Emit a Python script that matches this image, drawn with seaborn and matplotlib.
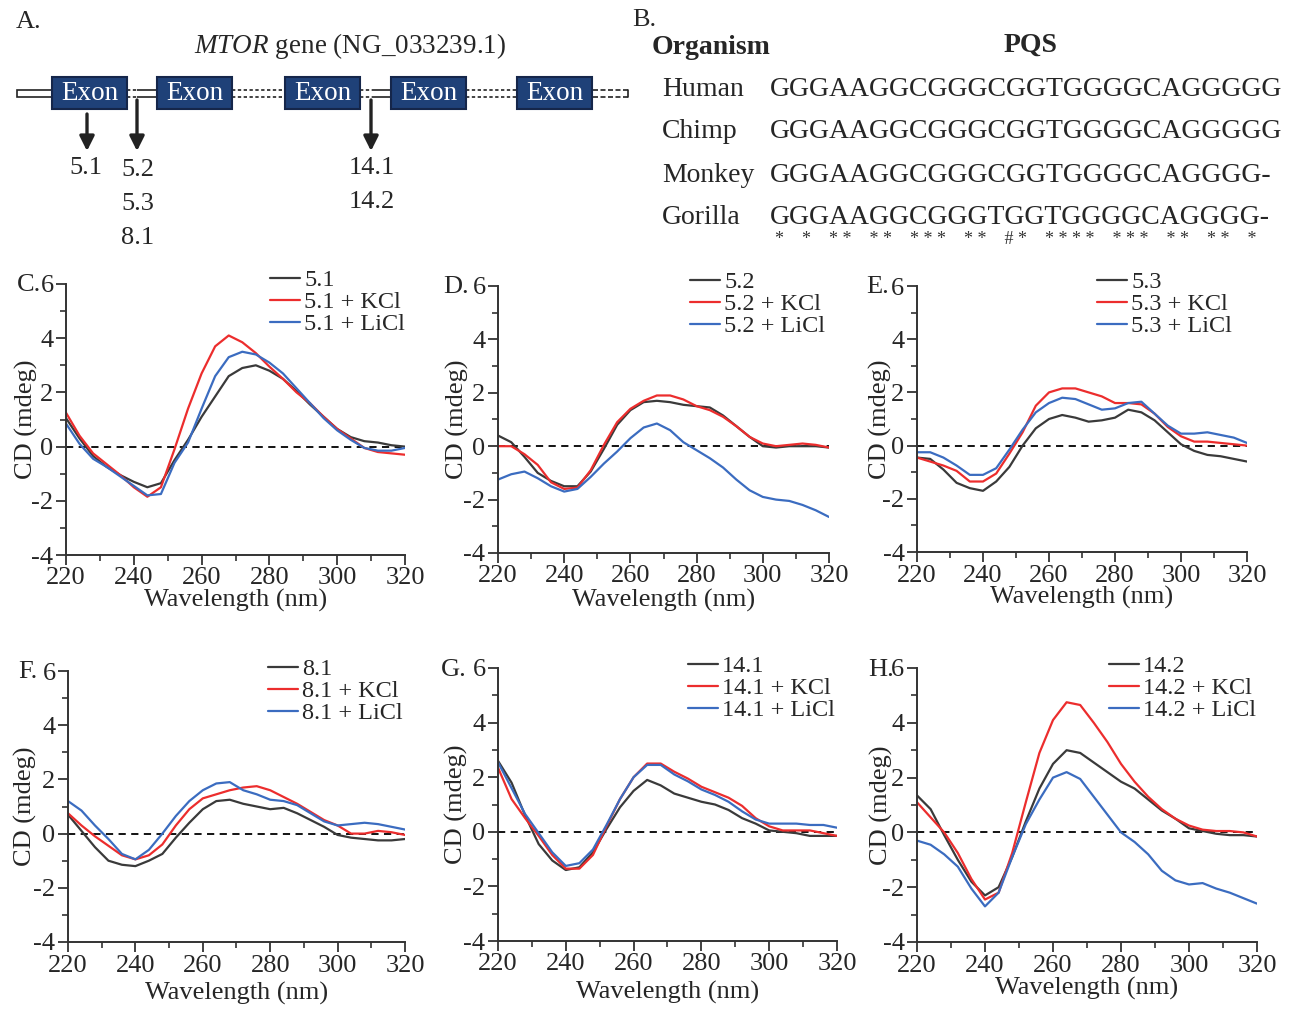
import numpy as np
import pandas as pd
import matplotlib
matplotlib.use("Agg")
import matplotlib.pyplot as plt
import seaborn as sns
from matplotlib.patches import Rectangle
from matplotlib.ticker import MultipleLocator

# ---------------- data ----------------
wavelength = list(range(220, 321, 4))

s51      = [1.05, 0.3, -0.35, -0.75, -1.05, -1.3, -1.5, -1.35, -0.5, 0.25, 1.1, 1.85, 2.6, 2.9, 3.0, 2.8, 2.5, 2.05, 1.55, 1.1, 0.65, 0.35, 0.2, 0.15, 0.05, 0.0]
s51_kcl  = [1.25, 0.4, -0.25, -0.65, -1.05, -1.5, -1.85, -1.5, -0.1, 1.4, 2.7, 3.7, 4.1, 3.85, 3.45, 2.95, 2.5, 2.0, 1.6, 1.1, 0.65, 0.3, -0.05, -0.2, -0.25, -0.3]
s51_licl = [0.85, 0.1, -0.45, -0.75, -1.1, -1.45, -1.8, -1.75, -0.6, 0.15, 1.4, 2.6, 3.3, 3.5, 3.4, 3.1, 2.7, 2.15, 1.6, 1.05, 0.6, 0.25, -0.05, -0.15, -0.15, -0.05]

s52      = [0.4, 0.15, -0.4, -1.0, -1.3, -1.5, -1.5, -0.95, -0.1, 0.8, 1.35, 1.65, 1.7, 1.65, 1.55, 1.5, 1.45, 1.15, 0.75, 0.35, 0.0, -0.05, 0.0, 0.0, 0.0, -0.05]
s52_kcl  = [0.0, 0.0, -0.3, -0.7, -1.35, -1.6, -1.55, -0.9, 0.05, 0.9, 1.4, 1.7, 1.9, 1.9, 1.75, 1.5, 1.35, 1.1, 0.75, 0.35, 0.1, 0.0, 0.05, 0.1, 0.05, -0.05]
s52_licl = [-1.25, -1.05, -0.95, -1.2, -1.5, -1.7, -1.6, -1.15, -0.65, -0.2, 0.3, 0.7, 0.85, 0.6, 0.15, -0.15, -0.45, -0.8, -1.25, -1.65, -1.9, -2.0, -2.05, -2.2, -2.4, -2.65]

s53      = [-0.45, -0.5, -0.9, -1.4, -1.6, -1.7, -1.35, -0.8, 0.0, 0.65, 1.0, 1.15, 1.05, 0.9, 0.95, 1.05, 1.35, 1.25, 0.95, 0.5, 0.05, -0.2, -0.35, -0.4, -0.5, -0.6]
s53_kcl  = [-0.45, -0.6, -0.75, -0.95, -1.35, -1.35, -1.05, -0.3, 0.5, 1.5, 2.0, 2.15, 2.15, 2.0, 1.85, 1.6, 1.6, 1.55, 1.2, 0.7, 0.35, 0.15, 0.15, 0.1, 0.05, 0.0]
s53_licl = [-0.25, -0.25, -0.45, -0.75, -1.1, -1.1, -0.85, -0.15, 0.6, 1.25, 1.6, 1.8, 1.75, 1.55, 1.35, 1.4, 1.6, 1.65, 1.2, 0.75, 0.45, 0.45, 0.5, 0.4, 0.3, 0.1]

s81      = [0.7, 0.1, -0.5, -1.0, -1.15, -1.2, -1.0, -0.75, -0.15, 0.4, 0.9, 1.2, 1.25, 1.1, 1.0, 0.9, 0.95, 0.75, 0.5, 0.25, -0.05, -0.15, -0.2, -0.25, -0.25, -0.2]
s81_kcl  = [0.75, 0.3, -0.1, -0.45, -0.8, -0.95, -0.8, -0.4, 0.3, 0.9, 1.3, 1.45, 1.6, 1.7, 1.75, 1.6, 1.35, 1.1, 0.8, 0.5, 0.3, 0.0, 0.0, 0.1, 0.05, -0.05]
s81_licl = [1.2, 0.85, 0.3, -0.2, -0.75, -0.95, -0.6, 0.0, 0.65, 1.2, 1.6, 1.85, 1.9, 1.6, 1.45, 1.25, 1.2, 1.05, 0.75, 0.45, 0.3, 0.35, 0.4, 0.35, 0.25, 0.15]

s141      = [2.6, 1.8, 0.6, -0.45, -1.05, -1.4, -1.3, -0.75, 0.1, 0.9, 1.5, 1.9, 1.7, 1.4, 1.25, 1.1, 1.0, 0.8, 0.5, 0.3, 0.05, 0.0, -0.05, -0.15, -0.15, -0.15]
s141_kcl  = [2.35, 1.2, 0.5, -0.15, -0.85, -1.35, -1.35, -0.85, 0.2, 1.2, 2.0, 2.5, 2.5, 2.2, 1.95, 1.65, 1.45, 1.25, 0.95, 0.5, 0.2, 0.05, 0.05, 0.05, -0.05, -0.15]
s141_licl = [2.55, 1.6, 0.65, -0.05, -0.75, -1.25, -1.15, -0.65, 0.25, 1.2, 2.0, 2.45, 2.45, 2.1, 1.85, 1.55, 1.35, 1.1, 0.75, 0.45, 0.3, 0.3, 0.3, 0.25, 0.25, 0.15]

s142      = [1.35, 0.85, -0.1, -1.0, -1.8, -2.3, -2.0, -0.9, 0.4, 1.6, 2.5, 3.0, 2.9, 2.55, 2.2, 1.85, 1.6, 1.2, 0.8, 0.5, 0.15, 0.05, -0.05, -0.1, -0.1, -0.15]
s142_kcl  = [1.1, 0.55, 0.0, -0.75, -1.7, -2.45, -2.2, -0.75, 1.1, 2.9, 4.1, 4.75, 4.65, 4.0, 3.3, 2.5, 1.85, 1.3, 0.85, 0.5, 0.25, 0.1, 0.05, 0.05, 0.0, -0.15]
s142_licl = [-0.3, -0.45, -0.8, -1.25, -2.05, -2.7, -2.2, -0.9, 0.3, 1.2, 2.0, 2.2, 1.95, 1.3, 0.65, 0.0, -0.35, -0.8, -1.4, -1.75, -1.9, -1.85, -2.05, -2.2, -2.4, -2.6]

organisms = ["Human", "Chimp", "Monkey", "Gorilla"]
sequences = ["GGGAAGGCGGGCGGTGGGGCAGGGGG",
             "GGGAAGGCGGGCGGTGGGGCAGGGGG",
             "GGGAAGGCGGGCGGTGGGGCAGGGG-",
             "GGGAAGGCGGGTGGTGGGGCAGGGG-"]
conservation = "*    *    * *    * *    * * *    * *    # *    * * * *    * * *    * *    * *    *"

# ---------------- style ----------------
sns.set_theme(style="ticks")
plt.rcParams["font.family"] = ["Liberation Serif", "DejaVu Serif"]
plt.rcParams["axes.unicode_minus"] = False
plt.rcParams["mathtext.fontset"] = "custom"
plt.rcParams["mathtext.it"] = "Liberation Serif:italic"
plt.rcParams["mathtext.rm"] = "Liberation Serif"

BLACK = "#3a3a3a"
RED = "#ec2d2d"
BLUE = "#3b6cc0"
NAVY = "#1f4178"

W, H = 1291, 1009
fig = plt.figure(figsize=(W / 100, H / 100), dpi=100)

over = fig.add_axes([0, 0, 1, 1])
over.set_xlim(0, W)
over.set_ylim(H, 0)
over.axis("off")

FS = 19

# ---------------- panel A ----------------
over.text(16, 22, "A.", fontsize=FS, ha="left", va="center")
over.text(350, 46, r"$\mathit{MTOR}$ gene (NG_033239.1)", fontsize=FS + 0.5, ha="center", va="center")

yl, yh = 89.5, 96.5
def dbl(x0, x1, style):
    for yy in (yl, yh):
        over.plot([x0, x1], [yy, yy], color="#222222", lw=1.2, ls=style, solid_capstyle="butt")

over.add_patch(Rectangle((17, yl), 35, yh - yl, fc="white", ec="#222222", lw=1.2))
dbl(127, 137, (0, (2, 1.5)))
dbl(137, 157, "-")
dbl(232, 285, (0, (2, 1.5)))
dbl(360, 372, (0, (2, 1.5)))
dbl(372, 391, "-")
dbl(466, 517, (0, (2, 1.5)))
dbl(593, 628, (0, (3, 1.5)))
over.plot([628, 628], [yl, yh], color="#222222", lw=1.2)

for x0 in [52, 157, 285, 391, 517]:
    over.add_patch(Rectangle((x0, 77), 75, 32, fc=NAVY, ec="#15264a", lw=1.5, zorder=3))
    over.text(x0 + 37.5, 93, "Exon", color="white", fontsize=FS + 0.5, ha="center", va="center", zorder=4)

arrow = dict(arrowstyle="-|>", lw=2.4, color="#222222", mutation_scale=22, shrinkA=0, shrinkB=0)
over.annotate("", xy=(87, 151), xytext=(87, 114), arrowprops=arrow)
over.annotate("", xy=(137, 151), xytext=(137, 100), arrowprops=arrow)
over.annotate("", xy=(371, 151), xytext=(371, 100), arrowprops=arrow)
for (tx, ty, s) in [(86, 168, "5.1"), (138, 170, "5.2"), (138, 204, "5.3"), (138, 238, "8.1"),
                    (372, 168, "14.1"), (372, 202, "14.2")]:
    over.text(tx, ty, s, fontsize=FS, ha="center", va="center")

# ---------------- panel B ----------------
over.text(632, 20, "B.", fontsize=FS, ha="left", va="center")
over.text(652, 47, "Organism", fontsize=20, fontweight="bold", ha="left", va="center")
over.text(1030, 45, "PQS", fontsize=20, fontweight="bold", ha="center", va="center")
for org, seq, yy in zip(organisms, sequences, [90, 132, 175, 217]):
    over.text(662, yy, org, fontsize=20, ha="left", va="center")
    over.text(770, yy, seq, fontsize=20, ha="left", va="center")
over.text(775, 240, conservation, fontsize=13, ha="left", va="center", color="#333333")

# ---------------- CD panels ----------------
panels = [
    ("C.", "5.1", s51, s51_kcl, s51_licl, (66, 284, 405, 555), (17, 285), (270, 269), -0.083, -0.125),
    ("D.", "5.2", s52, s52_kcl, s52_licl, (498, 286, 829, 553), (443, 287), (690, 271), -0.088, -0.135),
    ("E.", "5.3", s53, s53_kcl, s53_licl, (917, 286, 1247, 552), (866, 287), (1097, 271), -0.076, -0.128),
    ("F.", "8.1", s81, s81_kcl, s81_licl, (68, 671, 405, 942), (18, 672), (268, 658), -0.092, -0.148),
    ("G.", "14.1", s141, s141_kcl, s141_licl, (498, 668, 837, 941), (441, 670), (688, 655), -0.088, -0.147),
    ("H.", "14.2", s142, s142_kcl, s142_licl, (917, 668, 1257, 942), (868, 670), (1109, 655), -0.07, -0.128),
]

for letter, lab, a, b, c, (l, t, r, btm), (lx, ly), (gx, gy), ylc, xlc in panels:
    ax = fig.add_axes([l / W, 1 - btm / H, (r - l) / W, (btm - t) / H])
    ax.set_facecolor("none")
    df = pd.DataFrame({
        "Wavelength": wavelength * 3,
        "CD": a + b + c,
        "Sample": [lab] * len(a) + [lab + " + KCl"] * len(b) + [lab + " + LiCl"] * len(c),
    })
    ax.axhline(0, color="black", lw=1.3, ls=(0, (4, 3)), zorder=1)
    sns.lineplot(data=df, x="Wavelength", y="CD", hue="Sample",
                 palette=[BLACK, RED, BLUE], lw=1.6, ax=ax, estimator=None)
    ax.set_xlim(220, 320)
    ax.set_ylim(-4, 6)
    ax.set_xticks(range(220, 321, 20))
    ax.set_yticks(range(-4, 7, 2))
    ax.xaxis.set_minor_locator(MultipleLocator(10))
    ax.yaxis.set_minor_locator(MultipleLocator(1))
    ax.tick_params(which="major", direction="out", length=7, width=1.3, labelsize=FS, pad=2, color="#333333")
    ax.tick_params(which="minor", direction="out", length=4, width=1.2, color="#333333")
    sns.despine(ax=ax)
    for sp in ("left", "bottom"):
        ax.spines[sp].set_linewidth(1.4)
        ax.spines[sp].set_color("#333333")
    ax.set_xlabel("Wavelength (nm)", fontsize=FS)
    ax.set_ylabel("CD (mdeg)", fontsize=FS)
    ax.yaxis.set_label_coords(ylc, 0.5)
    ax.xaxis.set_label_coords(0.5, xlc)
    ax.xaxis.label.set_va("top")
    sns.move_legend(ax, "upper left", bbox_to_anchor=(gx / W, 1 - gy / H),
                    bbox_transform=fig.transFigure, frameon=False, title=None,
                    fontsize=17.5, handlelength=1.25, handletextpad=0.15,
                    labelspacing=0.0, borderpad=0, borderaxespad=0)
    over.text(lx, ly, letter, fontsize=FS, ha="left", va="center")

fig.savefig("out.png", dpi=100)
